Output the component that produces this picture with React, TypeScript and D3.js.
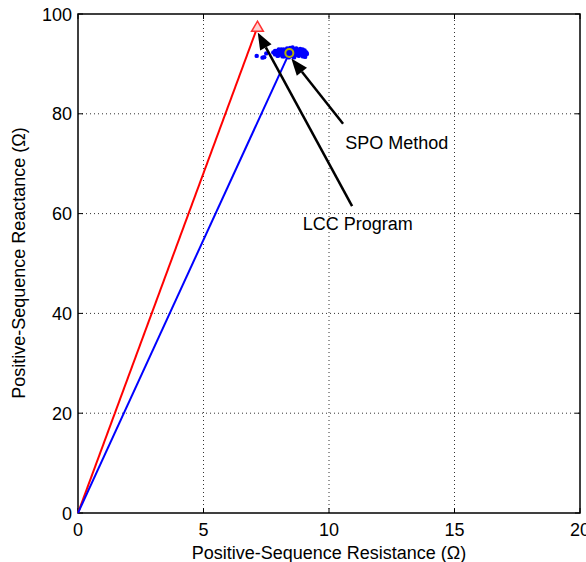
import React from "react";
import * as d3 from "d3";

const W = 586;
const H = 562;

// Axis ticks
const xTicks = [0, 5, 10, 15, 20];
const yTicks = [0, 20, 40, 60, 80, 100];

// Estimated impedance endpoints
const lccPoint = { r: 7.15, x: 97.4 };
const spoPoint = { r: 8.42, x: 92.2 };

// SPO sample cloud (R, X)
const spoSamplesR = [
  7.12, 7.35, 7.5, 7.42, 7.78, 7.85, 7.9, 7.95, 8.0, 8.05, 8.1, 8.12, 8.18, 8.22, 8.25,
  8.3, 8.33, 8.38, 8.4, 8.45, 8.5, 8.52, 8.55, 8.58, 8.62, 8.65, 8.68, 8.7, 8.74, 8.78,
  8.8, 8.83, 8.86, 8.9, 8.93, 8.96, 9.0, 9.03, 9.06, 9.1, 9.12, 8.2, 8.0, 7.85, 8.6,
  8.45, 8.15, 8.7, 8.35, 8.55, 8.25, 8.85, 9.05, 8.4, 7.95, 8.65, 8.95, 8.1, 8.5, 8.3,
];
const spoSamplesX = [
  91.6, 91.25, 92.1, 91.35, 92.3, 91.9, 92.6, 92.1, 91.7, 92.4, 92.9, 91.9, 92.2, 91.5, 92.7,
  92.0, 93.1, 91.7, 92.5, 92.2, 91.6, 92.8, 93.3, 92.0, 91.4, 92.5, 93.0, 91.8, 92.3, 92.8,
  91.6, 92.1, 92.6, 91.9, 92.4, 91.5, 92.2, 92.7, 91.8, 92.3, 92.0, 92.9, 92.9, 92.6, 91.3,
  93.2, 91.5, 93.1, 92.5, 92.3, 91.8, 93.0, 91.4, 91.3, 91.6, 92.0, 92.9, 92.2, 92.6, 92.7,
];

// Annotation arrows: tail (r, x) -> head (r, x)
const annotations = [
  { label: "SPO Method", tail: [10.56, 78.0], head: [8.5, 91.1], text: [10.65, 73.0] },
  { label: "LCC Program", tail: [10.92, 61.5], head: [7.16, 96.3], text: [8.95, 56.8] },
];

const xLabel = "Positive-Sequence Resistance (\u03A9)";
const yLabel = "Positive-Sequence Reactance (\u03A9)";

const FONT = "Liberation Sans, Arial, sans-serif";

export default function App() {
  const x = d3.scaleLinear().domain([0, 20]).range([78, 580]);
  const y = d3.scaleLinear().domain([0, 100]).range([513, 14]);
  const [x0, x1] = x.range();
  const [y0, y1] = y.range();

  const line = d3
    .line<[number, number]>()
    .x((d) => x(d[0]))
    .y((d) => y(d[1]));

  const arrowHead = (tail: number[], head: number[]) => {
    const tx = x(tail[0]), ty = y(tail[1]);
    const hx = x(head[0]), hy = y(head[1]);
    const ang = Math.atan2(hy - ty, hx - tx);
    const len = 17, half = 6.5;
    const bx = hx - len * Math.cos(ang), by = hy - len * Math.sin(ang);
    const px = -Math.sin(ang) * half, py = Math.cos(ang) * half;
    return {
      pts: `${hx},${hy} ${bx + px},${by + py} ${bx - px},${by - py}`,
      bx,
      by,
    };
  };

  const tri = d3.symbol().type(d3.symbolTriangle).size(60)();

  return (
    <svg
      width={W}
      height={H}
      style={{ position: "absolute", left: 0, top: 0, background: "#fff" }}
      fontFamily={FONT}
    >
      {/* grid */}
      {xTicks.slice(1, -1).map((t) => (
        <line key={"gx" + t} x1={x(t)} x2={x(t)} y1={y0} y2={y1} stroke="#333" strokeWidth={1} strokeDasharray="1,3" />
      ))}
      {yTicks.slice(1, -1).map((t) => (
        <line key={"gy" + t} x1={x0} x2={x1} y1={y(t)} y2={y(t)} stroke="#333" strokeWidth={1} strokeDasharray="1,3" />
      ))}

      {/* frame */}
      <rect x={x0} y={y1} width={x1 - x0} height={y0 - y1} fill="none" stroke="#000" strokeWidth={1.5} />

      {/* ticks */}
      {xTicks.map((t) => (
        <g key={"tx" + t}>
          <line x1={x(t)} x2={x(t)} y1={y0} y2={y0 - 5} stroke="#000" />
          <line x1={x(t)} x2={x(t)} y1={y1} y2={y1 + 5} stroke="#000" />
          <text x={x(t)} y={536} textAnchor="middle" fontSize={18} fill="#000">
            {t}
          </text>
        </g>
      ))}
      {yTicks.map((t) => (
        <g key={"ty" + t}>
          <line x1={x0} x2={x0 + 5} y1={y(t)} y2={y(t)} stroke="#000" />
          <line x1={x1} x2={x1 - 5} y1={y(t)} y2={y(t)} stroke="#000" />
          <text x={72} y={y(t) + 6.5} textAnchor="end" fontSize={18} fill="#000">
            {t}
          </text>
        </g>
      ))}

      {/* axis labels */}
      <text x={329} y={559} textAnchor="middle" fontSize={18} fill="#000">
        {xLabel}
      </text>
      <text
        transform={`translate(25, ${263}) rotate(-90)`}
        textAnchor="middle"
        fontSize={18}
        fill="#000"
      >
        {yLabel}
      </text>

      {/* impedance lines */}
      <path d={line([[0, 0], [lccPoint.r, lccPoint.x]]) || ""} stroke="#ff0000" strokeWidth={2} fill="none" />
      <path d={line([[0, 0], [spoPoint.r, spoPoint.x]]) || ""} stroke="#0000ff" strokeWidth={2} fill="none" />

      {/* sample cloud */}
      {spoSamplesR.map((r, i) => (
        <circle key={"s" + i} cx={x(r)} cy={y(spoSamplesX[i])} r={2.2} fill="#0000ff" />
      ))}

      {/* endpoint markers */}
      <path
        d={tri || ""}
        transform={`translate(${x(lccPoint.r)}, ${y(lccPoint.x) + 1})`}
        fill="#ffd0d0"
        stroke="#ff3030"
        strokeWidth={1.5}
      />
      <circle cx={x(spoPoint.r)} cy={y(spoPoint.x)} r={4} fill="none" stroke="#b8b400" strokeWidth={2} />

      {/* annotations */}
      {annotations.map((a) => {
        const h = arrowHead(a.tail, a.head);
        return (
          <g key={a.label}>
            <line x1={x(a.tail[0])} y1={y(a.tail[1])} x2={h.bx} y2={h.by} stroke="#000" strokeWidth={2.5} />
            <polygon points={h.pts} fill="#000" />
            <text x={x(a.text[0])} y={y(a.text[1])} fontSize={18} fill="#000">
              {a.label}
            </text>
          </g>
        );
      })}
    </svg>
  );
}
